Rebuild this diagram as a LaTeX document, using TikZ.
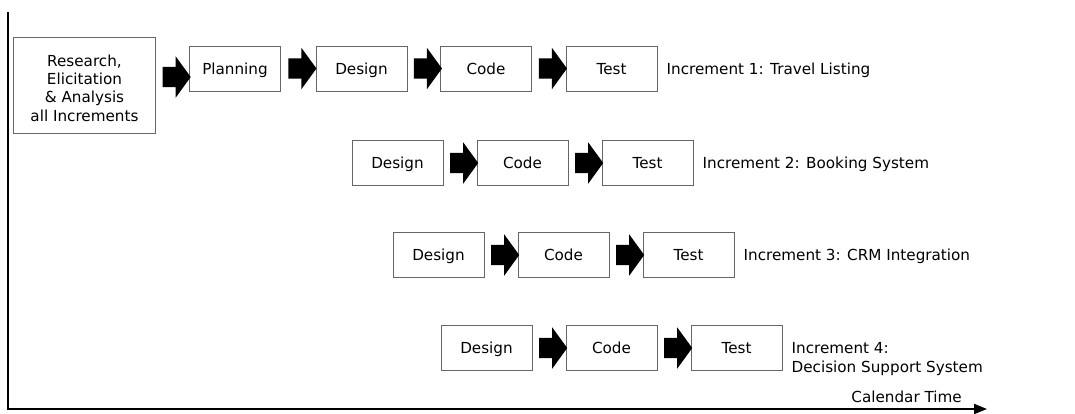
\documentclass[tikz,border=0pt]{standalone}
\usepackage{fontspec}
\setmainfont{DejaVu Sans}
\usetikzlibrary{shapes.arrows,arrows.meta}
\begin{document}
\begin{tikzpicture}[x=1pt,y=-1pt,
  txt/.style={font=\fontsize{15.2}{18.3}\selectfont},
  phase/.style={txt, draw=black!60, line width=0.9pt, minimum width=91pt,
    minimum height=45pt, inner sep=0pt, text height=11pt, text depth=0pt},
  flow/.style={single arrow, fill=black, draw=none, inner xsep=0pt,
    inner ysep=10pt, minimum height=28pt, single arrow head extend=10.5pt,
    single arrow tip angle=108},
  lbl/.style={txt, anchor=west, inner sep=0pt, align=left},
  axis/.style={line width=2pt, -{Triangle[length=13pt,width=10pt]}}
]
\useasboundingbox (0,0) rectangle (1075,413);

% time axis
\coordinate (ytop) at (8,12);
\coordinate (orig) at (8,409);
\coordinate (xend) at (987,409);
\draw[axis] (ytop) -- (orig) -- (xend);
\node[txt, anchor=east, inner sep=0pt, text height=11pt, text depth=0pt]
  (cal) at (962,397) {Calendar Time};

% shared analysis phase
\node[draw=black!60, line width=0.9pt, minimum width=142pt, minimum height=96pt,
  inner sep=0pt] (rea) at (84.5,85.5) {};
\node[txt, align=center, inner sep=0pt] (reatxt) at ([yshift=-2.5pt]rea.center)
  {Research,\\Elicitation\\\& Analysis\\all Increments};

% increment 1
\node[phase] (pl1) at (235,68.5) {Planning};
\node[phase] (de1) at (361.5,68.5) {Design};
\node[phase] (co1) at (486,68.5) {Code};
\node[phase] (te1) at (611.5,68.5) {Test};
\node[lbl, text height=11pt, text depth=0pt] (in1) at ([xshift=9pt]te1.east) {Increment 1: Travel Listing};

% increment 2
\node[phase] (de2) at (397.5,163) {Design};
\node[phase] (co2) at (522.5,163) {Code};
\node[phase] (te2) at (647.5,163) {Test};
\node[lbl, text height=11pt, text depth=0pt] (in2) at ([xshift=9pt]te2.east) {Increment 2: Booking System};

% increment 3
\node[phase] (de3) at (438.5,255) {Design};
\node[phase] (co3) at (563.5,255) {Code};
\node[phase] (te3) at (688.5,255) {Test};
\node[lbl, text height=11pt, text depth=0pt] (in3) at ([xshift=9pt]te3.east) {Increment 3: CRM Integration};

% increment 4
\node[phase] (de4) at (486.5,348) {Design};
\node[phase] (co4) at (611.5,348) {Code};
\node[phase] (te4) at (736.5,348) {Test};
\node[lbl] (in4) at ([xshift=9pt,yshift=-11pt]te4.east)
  {Increment 4:\\Decision Support System};

% block arrows between phases
\foreach \a/\b in {rea/pl1,pl1/de1,de1/co1,co1/te1,de2/co2,co2/te2,de3/co3,co3/te3,de4/co4,co4/te4}
  \path (\a.east) -- (\b.west) node[flow, midway, xshift=0.5pt] {};
\end{tikzpicture}
\end{document}
